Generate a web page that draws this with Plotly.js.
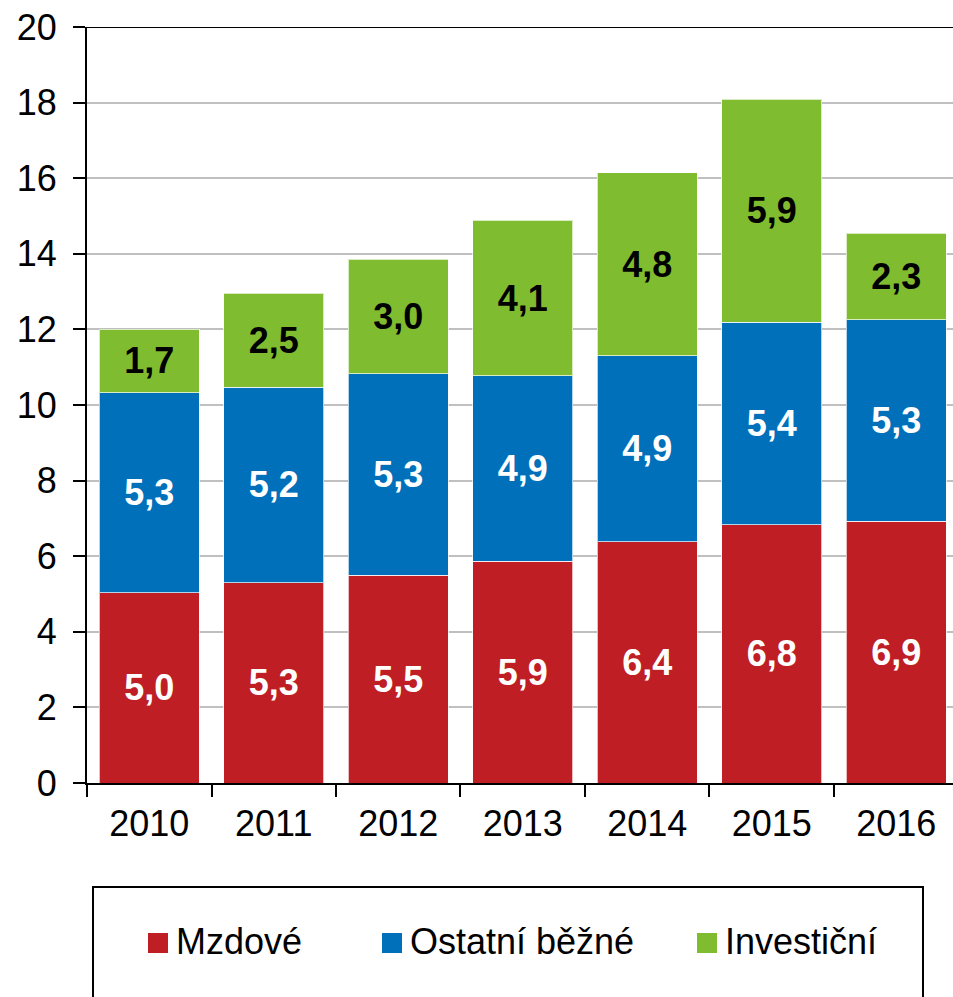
<!DOCTYPE html>
<html>
<head>
<meta charset="utf-8">
<script src="https://cdn.plot.ly/plotly-3.0.1.min.js"></script>
<style>html,body{margin:0;padding:0;background:#fff;}#chart{width:953px;height:997px;}</style>
</head>
<body>
<div id="chart"></div>
<script>
const years = ['2010', '2011', '2012', '2013', '2014', '2015', '2016'];
const seriesNames = ['Mzdové', 'Ostatní běžné', 'Investiční'];
const mzdove = [5.03, 5.30, 5.50, 5.87, 6.38, 6.83, 6.93];
const ostatni = [5.29, 5.17, 5.33, 4.90, 4.92, 5.36, 5.32];
const investicni = [1.69, 2.49, 3.02, 4.12, 4.84, 5.90, 2.30];
const yTicks = [0, 2, 4, 6, 8, 10, 12, 14, 16, 18, 20];

const colors = ['#BE1E24', '#0070BA', '#80BC2F'];
const labelColors = ['#ffffff', '#ffffff', '#000000'];
const values = [mzdove, ostatni, investicni];
const FONT = '"Liberation Sans", Arial, sans-serif';

const traces = values.map((v, i) => ({
  type: 'bar',
  x: years,
  y: v,
  name: seriesNames[i],
  marker: {color: colors[i], line: {color: 'rgba(255,255,255,0.7)', width: 1}},
  texttemplate: '%{y:.1f}',
  textposition: 'inside',
  insidetextanchor: 'middle',
  constraintext: 'none',
  textangle: 0,
  insidetextfont: {family: FONT, size: 36, color: labelColors[i], weight: 'bold'},
  hoverinfo: 'skip'
}));

// manual legend (swatches + labels) in paper coordinates
const L = 87, R = 953, T = 27, B = 783;
const px = x => (x - L) / (R - L);
const py = y => (B - y) / (B - T);
const legendItems = [
  {sx: 148, tx: 174},
  {sx: 382, tx: 408},
  {sx: 697, tx: 723}
];
const shapes = [
  {type: 'line', xref: 'paper', yref: 'y', x0: 0, x1: 1, y0: 20, y1: 20,
   line: {color: '#000', width: 2}},
  {type: 'rect', xref: 'paper', yref: 'paper', x0: px(93), x1: px(923), y0: py(887), y1: py(1010),
   line: {color: '#000', width: 2}, fillcolor: 'rgba(0,0,0,0)'}
];
const annotations = [];
legendItems.forEach((it, i) => {
  shapes.push({type: 'rect', xref: 'paper', yref: 'paper',
    x0: px(it.sx), x1: px(it.sx + 20), y0: py(953), y1: py(933),
    line: {width: 0}, fillcolor: colors[i]});
  annotations.push({xref: 'paper', yref: 'paper', x: px(it.tx), y: py(942),
    xanchor: 'left', yanchor: 'middle', showarrow: false, text: seriesNames[i],
    font: {family: FONT, size: 36, color: '#000'}});
});

const layout = {
  width: 953, height: 997,
  margin: {l: L, r: 953 - R, t: T, b: 997 - B, pad: 0},
  barmode: 'stack',
  bargap: 0.2,
  separators: ', ',
  showlegend: false,
  paper_bgcolor: '#fff', plot_bgcolor: '#fff',
  font: {family: FONT, color: '#000'},
  xaxis: {
    type: 'category',
    range: [-0.5, 6.456],
    tickson: 'boundaries',
    ticks: 'outside', ticklen: 12, tickwidth: 2, tickcolor: '#000',
    showline: true, linecolor: '#000', linewidth: 2,
    showgrid: false, zeroline: false,
    tickfont: {family: FONT, size: 36, color: '#000'},
    ticklabelstandoff: 8
  },
  yaxis: {
    range: [0, 20],
    tickvals: yTicks,
    ticktext: yTicks.map(String),
    ticks: 'outside', ticklen: 12, tickwidth: 2, tickcolor: '#000',
    showline: true, linecolor: '#000', linewidth: 2,
    showgrid: true, gridcolor: '#C0C0C0', gridwidth: 2,
    zeroline: false,
    tickfont: {family: FONT, size: 36, color: '#000'},
    ticklabelstandoff: 9
  },
  shapes: shapes,
  annotations: annotations
};

Plotly.newPlot('chart', traces, layout, {displayModeBar: false, staticPlot: true});
</script>
</body>
</html>
